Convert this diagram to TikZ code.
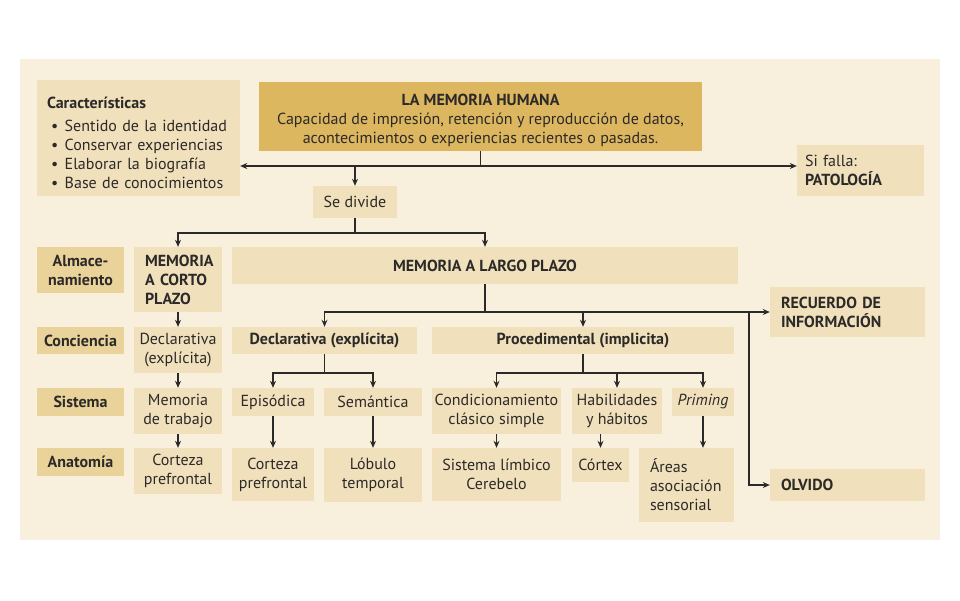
\documentclass[tikz,border=0pt]{standalone}
\usepackage{fontspec}
\setmainfont{PT Sans}
\usetikzlibrary{arrows.meta}
\definecolor{fondo}{HTML}{F8F0DC}
\definecolor{cajacol}{HTML}{F0E0BC}
\definecolor{etiqcol}{HTML}{EAD39B}
\definecolor{oro}{HTML}{DDB660}
\definecolor{tinta}{HTML}{2C2A28}
\newcommand{\punto}{\hspace*{4pt}\textbullet\hspace{6.5pt}}

\begin{document}
\begin{tikzpicture}[x=1pt,y=-1pt,
		caja/.style={fill=cajacol, inner sep=0pt, align=center, text=tinta, font=\fontsize{16}{19}\selectfont},
		etiq/.style={caja, fill=etiqcol, font=\fontsize{16}{19}\selectfont\bfseries},
		negrita/.style={font=\fontsize{16}{19}\selectfont\bfseries},
		trazo/.style={draw=tinta, line width=1.2pt},
		flecha/.style={trazo, -{Stealth[length=7pt,width=6pt]}}]
		\useasboundingbox (0,0) rectangle (960,600);
		\fill[fondo] (20,59) rectangle (940,540);
		% cabecera
		\node[caja, minimum width=203, minimum height=116, text width=183, align=left] (carac) at (138.5,138) {\textbf{Características}\rule{0pt}{22pt}\\[4pt]\punto Sentido de la identidad\\\punto Conservar experiencias\\\punto Elaborar la biografía\\\punto Base de conocimientos};
		\node[caja, fill=oro, minimum width=443, minimum height=69] (memoria) at (480.5,116.5) {\textbf{LA MEMORIA HUMANA}\rule{0pt}{20pt}\\Capacidad de impresión, retención y reproducción de datos,\\acontecimientos o experiencias recientes o pasadas.};
		\node[caja, minimum width=84, minimum height=32] (divide) at (355,202) {Se divide};
		\node[caja, minimum width=127, minimum height=51, text width=111, align=left] (falla) at (860.5,170.5) {Si falla:\\\textbf{PATOLOGÍA}};
		% etiquetas de fila
		\node[etiq, minimum width=87, minimum height=46] (almac) at (80.5,270) {Almace-\\namiento};
		\node[etiq, minimum width=87, minimum height=27] (concien) at (80.5,340.5) {Conciencia};
		\node[etiq, minimum width=87, minimum height=28] (sistema) at (80.5,402) {Sistema};
		\node[etiq, minimum width=87, minimum height=28] (anatom) at (80.5,462) {Anatomía};
		% corto plazo
		\node[caja, negrita, minimum width=88, minimum height=65, text width=66, align=left] (corto) at (178,279.5) {MEMORIA\\A CORTO\\PLAZO};
		\node[caja, minimum width=88, minimum height=46] (decl1) at (178,350) {Declarativa\\(explícita)};
		\node[caja, minimum width=88, minimum height=46] (trabajo) at (178,411) {Memoria\\de trabajo};
		\node[caja, minimum width=88, minimum height=46] (cort1) at (178,471) {Corteza\\prefrontal};
		% largo plazo
		\node[caja, negrita, minimum width=506, minimum height=37] (largo) at (485,265.5) {MEMORIA A LARGO PLAZO};
		\node[caja, negrita, minimum width=185, minimum height=27] (decl2) at (324.5,340.5) {Declarativa (explícita)};
		\node[caja, negrita, minimum width=302, minimum height=27] (proc) at (583,340.5) {Procedimental (implicita)};
		\node[caja, minimum width=82, minimum height=28] (episod) at (273,402) {Episódica};
		\node[caja, minimum width=98, minimum height=28] (seman) at (373,402) {Semántica};
		\node[caja, minimum width=129, minimum height=46] (condic) at (496.5,411) {Condicionamiento\\clásico simple};
		\node[caja, minimum width=90, minimum height=46] (habil) at (617,411) {Habilidades\\y hábitos};
		\node[caja, minimum width=62, minimum height=28] (priming) at (703,402) {\textit{Priming}};
		\node[caja, minimum width=82, minimum height=53] (cort2) at (273,474.5) {Corteza\\prefrontal};
		\node[caja, minimum width=98, minimum height=54] (lobulo) at (373,475) {Lóbulo\\temporal};
		\node[caja, minimum width=129, minimum height=53] (limbico) at (496.5,474.5) {Sistema límbico\\Cerebelo};
		\node[caja, minimum width=57, minimum height=34] (cortex) at (600.5,465) {Córtex};
		\node[caja, minimum width=95, minimum height=74, text width=73, align=left] (areas) at (686.5,485) {Áreas\\asociación\\sensorial};
		% salidas
		\node[caja, negrita, minimum width=155, minimum height=50, text width=133, align=left] (recuerdo) at (847.5,312) {RECUERDO DE\\INFORMACIÓN};
		\node[caja, negrita, minimum width=155, minimum height=32, text width=133, align=left] (olvido) at (847.5,485) {OLVIDO};

		% conectores
		\coordinate (c1) at (480.5,166);
		\coordinate (c2) at (355,233);
		\coordinate (c3) at (485,312);
		\coordinate (c4) at (749,312);
		\coordinate (c5) at (324.5,373);
		\coordinate (c6) at (583,373);
		\draw[trazo] (memoria.south) -- (c1);
		\draw[flecha] (c1) -- (carac.east |- c1);
		\draw[flecha] (c1) -- (falla.west |- c1);
		\draw[flecha] (divide.north |- c1) -- (divide.north);
		\draw[trazo] (divide.south) -- (c2);
		\draw[flecha] (c2) -| (corto);
		\draw[flecha] (c2) -| (largo);
		\draw[trazo] (largo.south) -- (c3);
		\draw[flecha] (c3) -| (decl2);
		\draw[flecha] (c3) -| (proc);
		\draw[flecha] (c3) -- (recuerdo.west);
		\draw[flecha] (c4) |- (olvido.west);
		\draw[trazo] (decl2.south) -- (c5);
		\draw[trazo] (proc.south) -- (c6);
		\foreach \n in {episod,seman}{
			\draw[flecha] (c5) -| (\n);
		}
		\foreach \n in {condic,habil,priming}{
			\draw[flecha] (c6) -| (\n);
		}
		\foreach \a/\b in {corto/decl1,decl1/trabajo,trabajo/cort1,episod/cort2,seman/lobulo,condic/limbico}{
			\draw[flecha] (\a) -- (\b);
		}
		\draw[flecha] (habil.south -| cortex) -- (cortex);
		\draw[flecha] (priming.south) -- (priming.south |- areas.north);
	\end{tikzpicture}
\end{document}
